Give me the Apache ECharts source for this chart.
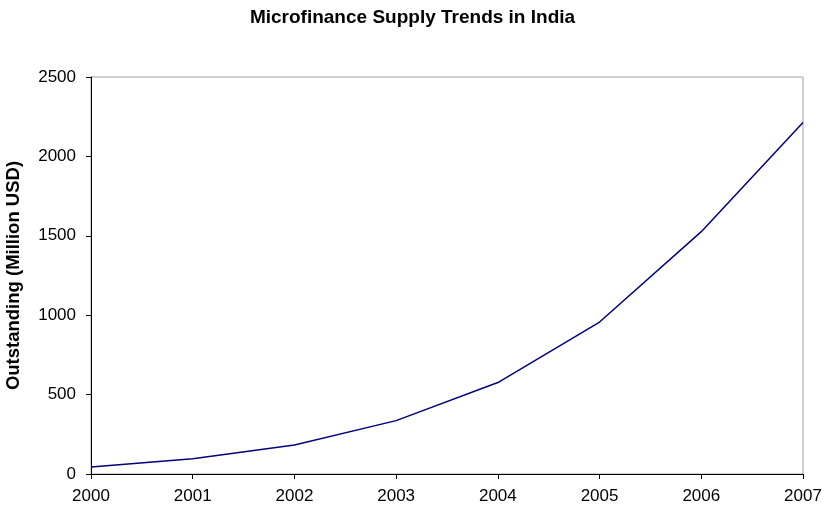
<!DOCTYPE html>
<html>
<head>
<meta charset="utf-8">
<script src="https://cdn.jsdelivr.net/npm/echarts@6/dist/echarts.min.js"></script>
<style>
  html, body { margin: 0; padding: 0; background: #fff; }
  #chart { width: 825px; height: 511px; }
</style>
</head>
<body>
<div id="chart"></div>
<script>
// Microfinance outstanding portfolio in India, million USD
const years = ['2000', '2001', '2002', '2003', '2004', '2005', '2006', '2007'];
const outstanding = [44, 96, 183, 336, 576, 957, 1526, 2214];
const yTicks = [0, 500, 1000, 1500, 2000, 2500];

const font = 'Arial, "Liberation Sans", sans-serif';
const chart = echarts.init(document.getElementById('chart'), null, { renderer: 'canvas' });

chart.setOption({
  animation: false,
  backgroundColor: '#ffffff',
  title: {
    text: 'Microfinance Supply Trends in India',
    left: 'center',
    top: 8,
    padding: 0,
    textStyle: { fontFamily: font, fontSize: 19, fontWeight: 'bold', color: '#000' }
  },
  grid: {
    left: 91, right: 22, top: 77, bottom: 37,
    containLabel: false,
    outerBoundsMode: 'none',
    show: true, borderColor: '#a0a0a0', borderWidth: 1, backgroundColor: 'transparent'
  },
  xAxis: {
    type: 'category',
    data: years,
    boundaryGap: false,
    axisLine: { lineStyle: { color: '#000', width: 1 } },
    axisTick: { show: true, length: 5, lineStyle: { color: '#000' } },
    axisLabel: { fontFamily: font, fontSize: 17, color: '#000', margin: 14 },
    splitLine: { show: false }
  },
  yAxis: {
    type: 'value',
    min: yTicks[0],
    max: yTicks[yTicks.length - 1],
    interval: 500,
    name: 'Outstanding (Million USD)',
    nameLocation: 'middle',
    nameGap: 68,
    nameTextStyle: { fontFamily: font, fontSize: 18.5, fontWeight: 'bold', color: '#000' },
    axisLine: { show: true, lineStyle: { color: '#000', width: 1 } },
    axisTick: { show: true, length: 5, lineStyle: { color: '#000' } },
    axisLabel: {
      fontFamily: font, fontSize: 17, color: '#000', margin: 15,
      formatter: v => String(v)
    },
    splitLine: { show: false }
  },
  series: [{
    type: 'line',
    data: outstanding,
    symbol: 'none',
    lineStyle: { color: '#000080', width: 1.5 }
  }]
});
</script>
</body>
</html>
